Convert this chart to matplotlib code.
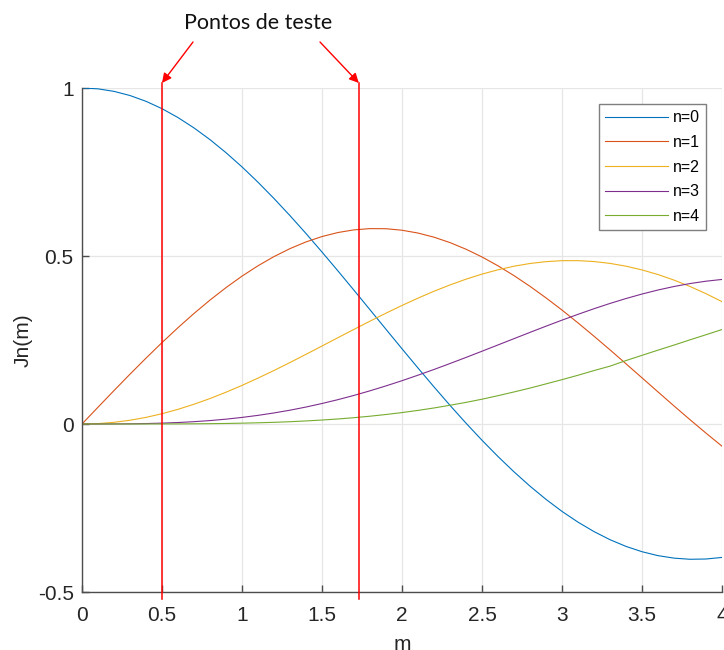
import matplotlib
matplotlib.use("Agg")
import matplotlib.pyplot as plt

# ── data ─────────────────────────────────────────────────────────────────────
m = [0.0, 0.1, 0.2, 0.3, 0.4, 0.5, 0.6, 0.7, 0.8, 0.9,
     1.0, 1.1, 1.2, 1.3, 1.4, 1.5, 1.6, 1.7, 1.8, 1.9,
     2.0, 2.1, 2.2, 2.3, 2.4, 2.5, 2.6, 2.7, 2.8, 2.9,
     3.0, 3.1, 3.2, 3.3, 3.4, 3.5, 3.6, 3.7, 3.8, 3.9, 4.0]

j0 = [1.0000, 0.9975, 0.9900, 0.9776, 0.9604, 0.9385, 0.9120, 0.8812, 0.8463, 0.8075,
      0.7652, 0.7196, 0.6711, 0.6201, 0.5669, 0.5118, 0.4554, 0.3980, 0.3400, 0.2818,
      0.2239, 0.1666, 0.1104, 0.0555, 0.0025, -0.0484, -0.0968, -0.1424, -0.1850, -0.2243,
      -0.2601, -0.2921, -0.3202, -0.3443, -0.3643, -0.3801, -0.3918, -0.3992, -0.4026, -0.4018,
      -0.3971]
j1 = [0.0000, 0.0499, 0.0995, 0.1483, 0.1960, 0.2423, 0.2867, 0.3290, 0.3688, 0.4059,
      0.4401, 0.4709, 0.4983, 0.5220, 0.5419, 0.5579, 0.5699, 0.5778, 0.5815, 0.5812,
      0.5767, 0.5683, 0.5560, 0.5399, 0.5202, 0.4971, 0.4708, 0.4416, 0.4097, 0.3754,
      0.3391, 0.3009, 0.2613, 0.2207, 0.1792, 0.1374, 0.0955, 0.0538, 0.0128, -0.0272,
      -0.0660]
j2 = [0.0000, 0.0012, 0.0050, 0.0112, 0.0197, 0.0306, 0.0437, 0.0588, 0.0758, 0.0946,
      0.1149, 0.1366, 0.1593, 0.1830, 0.2074, 0.2321, 0.2570, 0.2817, 0.3061, 0.3299,
      0.3528, 0.3746, 0.3951, 0.4139, 0.4310, 0.4461, 0.4590, 0.4696, 0.4777, 0.4832,
      0.4861, 0.4862, 0.4835, 0.4780, 0.4697, 0.4586, 0.4448, 0.4283, 0.4093, 0.3879,
      0.3641]
j3 = [0.0000, 0.0000, 0.0002, 0.0006, 0.0013, 0.0026, 0.0044, 0.0069, 0.0102, 0.0144,
      0.0196, 0.0257, 0.0329, 0.0411, 0.0505, 0.0610, 0.0725, 0.0851, 0.0988, 0.1134,
      0.1289, 0.1453, 0.1623, 0.1800, 0.1981, 0.2166, 0.2353, 0.2540, 0.2727, 0.2911,
      0.3091, 0.3264, 0.3431, 0.3588, 0.3734, 0.3868, 0.3988, 0.4092, 0.4180, 0.4250,
      0.4302]
j4 = [0.0000, 0.0000, 0.0000, 0.0000, 0.0001, 0.0002, 0.0003, 0.0006, 0.0010, 0.0016,
      0.0025, 0.0036, 0.0050, 0.0068, 0.0091, 0.0118, 0.0150, 0.0188, 0.0232, 0.0283,
      0.0340, 0.0405, 0.0477, 0.0558, 0.0643, 0.0738, 0.0843, 0.0954, 0.1069, 0.1194,
      0.1320, 0.1451, 0.1590, 0.1722, 0.1888, 0.2044, 0.2198, 0.2349, 0.2505, 0.2657,
      0.2811]

labels = ["n=0", "n=1", "n=2", "n=3", "n=4"]
test_points = [0.5, 1.73]
x_ticks = [0, 0.5, 1, 1.5, 2, 2.5, 3, 3.5, 4]
x_ticklabels = ["0", "0.5", "1", "1.5", "2", "2.5", "3", "3.5", "4"]
y_ticks = [-0.5, 0, 0.5, 1]
y_ticklabels = ["-0.5", "0", "0.5", "1"]

# MATLAB default line colours
colours = ["#0072BD", "#D95319", "#EDB120", "#7E2F8E", "#77AC30"]

plt.rcParams["font.family"] = ["Liberation Sans", "DejaVu Sans"]

fig = plt.figure(figsize=(7.24, 6.5), dpi=100)
ax = fig.add_axes([82 / 724, 1 - 592 / 650, 640 / 724, 504 / 650])

for series, lab, col in zip([j0, j1, j2, j3, j4], labels, colours):
    ax.plot(m, series, color=col, lw=0.8, label=lab)

# test-point markers, drawn a bit past the axes box
for tp in test_points:
    ax.plot([tp, tp], [-0.521, 1.015], color="#ff0000", lw=1.1,
            clip_on=False, zorder=5)

ax.set_xlim(0, 4)
ax.set_ylim(-0.5, 1)
ax.set_xticks(x_ticks)
ax.set_xticklabels(x_ticklabels)
ax.set_yticks(y_ticks)
ax.set_yticklabels(y_ticklabels)
ax.grid(True, color="#e6e6e6", lw=0.9)
ax.set_axisbelow(True)

for side in ("top", "right"):
    ax.spines[side].set_visible(False)
for side in ("left", "bottom"):
    ax.spines[side].set_color("#4d4d4d")
    ax.spines[side].set_linewidth(1.0)

ax.tick_params(direction="in", length=5, width=1.0, color="#4d4d4d",
               labelsize=15, labelcolor="#262626")
ax.tick_params(axis="x", pad=10)
ax.tick_params(axis="y", pad=6)
ax.set_xlabel("m", fontsize=15, color="#262626", labelpad=7)
ax.set_ylabel("Jn(m)", fontsize=15, color="#262626", labelpad=4)

leg = ax.legend(loc="upper right", bbox_to_anchor=(706 / 724, 1 - 104 / 650),
                bbox_transform=fig.transFigure, fontsize=11.5,
                handlelength=3.9, handletextpad=0.3, labelspacing=0.6,
                borderpad=0.4, borderaxespad=0, fancybox=False, framealpha=1.0)
leg.get_frame().set_edgecolor("#7f7f7f")
leg.get_frame().set_linewidth(1.0)

# annotation with arrows to the test-point lines
fig.text(258 / 724, 1 - 23 / 650, "Pontos de teste", fontsize=15.5,
         family=["Lato", "DejaVu Sans"], ha="center", va="center", color="#111111")
for tp, start in zip(test_points, [(193, 42), (320, 42)]):
    ax.annotate("", xy=(tp, 1.015), xycoords="data",
                xytext=(start[0] / 724, 1 - start[1] / 650),
                textcoords="figure fraction",
                arrowprops=dict(arrowstyle="-|>", color="#ff0000", lw=1.0,
                                mutation_scale=14, shrinkA=0, shrinkB=0),
                annotation_clip=False)

fig.savefig("out.png", dpi=100)
